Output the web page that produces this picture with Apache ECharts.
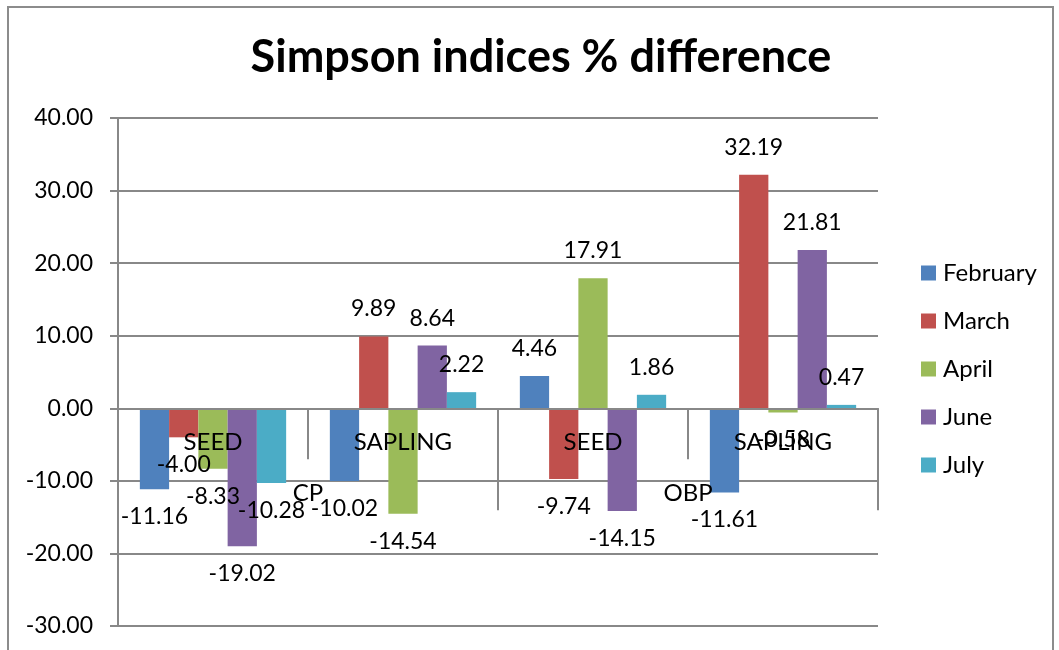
<!DOCTYPE html>
<html>
<head>
<meta charset="utf-8">
<script src="https://cdn.jsdelivr.net/npm/echarts@6/dist/echarts.min.js"></script>
<style>
  html, body { margin: 0; padding: 0; background: #fff; overflow: hidden; }
  #chart { position: absolute; left: 0; top: 0; width: 1059px; height: 650px; }
  .frame {
    position: absolute; left: 7px; top: 6px; width: 1043px; height: 700px;
    border: 2px solid #8c8c8c; pointer-events: none;
  }
</style>
</head>
<body>
<div id="chart"></div>
<div class="frame"></div>
<script>
// categories (inner level) and groups (outer level)
const stages = ['SEED', 'SAPLING', 'SEED', 'SAPLING']
const sites = ['CP', 'OBP']
const months = ['February', 'March', 'April', 'June', 'July']
const colors = ['#4F81BD', '#C0504D', '#9BBB59', '#8064A2', '#4BACC6']

// % difference per month, in stage order
const february = [-11.16, -10.02, 4.46, -11.61]
const march = [-4.00, 9.89, -9.74, 32.19]
const april = [-8.33, -14.54, 17.91, -0.58]
const june = [-19.02, 8.64, -14.15, 21.81]
const july = [-10.28, 2.22, 1.86, 0.47]

const yTicks = [-30, -20, -10, 0, 10, 20, 30, 40]

const seriesData = [february, march, april, june, july]
const font = 'Lato, "Open Sans", sans-serif'
const gray = '#888888'

// grid is 508px tall; zero sits 218px above its bottom edge.
// axis labels are laid out from the grid edge, so pull them up to the zero line
const zeroLift = 218

const chart = echarts.init(document.getElementById('chart'))

const option = {
  animation: false,
  color: colors,
  title: {
    text: 'Simpson indices % difference',
    left: 536,
    top: 30,
    textAlign: 'center',
    textStyle: { fontFamily: font, fontSize: 45, fontWeight: 'bold', color: '#000' }
  },
  legend: {
    orient: 'vertical',
    left: 916,
    top: 256,
    icon: 'rect',
    itemWidth: 15,
    itemHeight: 15,
    itemGap: 24,
    textStyle: { fontFamily: font, fontSize: 24, color: '#000', padding: [0, 0, 0, 2] },
    data: months
  },
  grid: { left: 118, top: 118, width: 760, height: 508, outerBoundsMode: 'none' },
  xAxis: [
    {
      type: 'category',
      data: stages,
      z: 5,
      axisLine: { onZero: true, onZeroAxisIndex: 0, lineStyle: { color: gray, width: 2 } },
      axisTick: { show: true, length: 51, lineStyle: { color: gray, width: 2 } },
      axisLabel: { interval: 0, margin: 22 - zeroLift, fontFamily: font, fontSize: 24, color: '#000' },
      splitLine: { show: false }
    },
    {
      type: 'category',
      data: sites,
      position: 'bottom',
      z: 5,
      axisLine: { show: false, onZero: true, onZeroAxisIndex: 1 },
      axisTick: { show: true, length: 102, lineStyle: { color: gray, width: 2 } },
      axisLabel: { interval: 0, margin: 73 - zeroLift, fontFamily: font, fontSize: 24, color: '#000' },
      splitLine: { show: false }
    }
  ],
  yAxis: [
    {
      type: 'value',
      min: yTicks[0],
      max: yTicks[yTicks.length - 1],
      interval: 10,
      axisLine: { show: true, lineStyle: { color: gray, width: 2 } },
      axisTick: { show: true, length: 8, lineStyle: { color: gray, width: 2 } },
      axisLabel: {
        margin: 25,
        fontFamily: font,
        fontSize: 23,
        color: '#000',
        formatter: v => v.toFixed(2)
      },
      splitLine: { lineStyle: { color: gray, width: 2 } }
    },
    {
      type: 'value',
      show: false,
      min: yTicks[0],
      max: yTicks[yTicks.length - 1],
      interval: 10
    }
  ],
  series: months.map((name, i) => ({
    name,
    type: 'bar',
    xAxisIndex: 0,
    yAxisIndex: 0,
    barGap: '0%',
    barCategoryGap: '23%',
    data: seriesData[i].map(v => ({
      value: v,
      label: { position: v < 0 ? 'bottom' : 'top' }
    })),
    label: {
      show: true,
      distance: 16,
      fontFamily: font,
      fontSize: 23,
      color: '#000',
      formatter: p => p.value.toFixed(2)
    }
  }))
}

chart.setOption(option)
</script>
</body>
</html>
